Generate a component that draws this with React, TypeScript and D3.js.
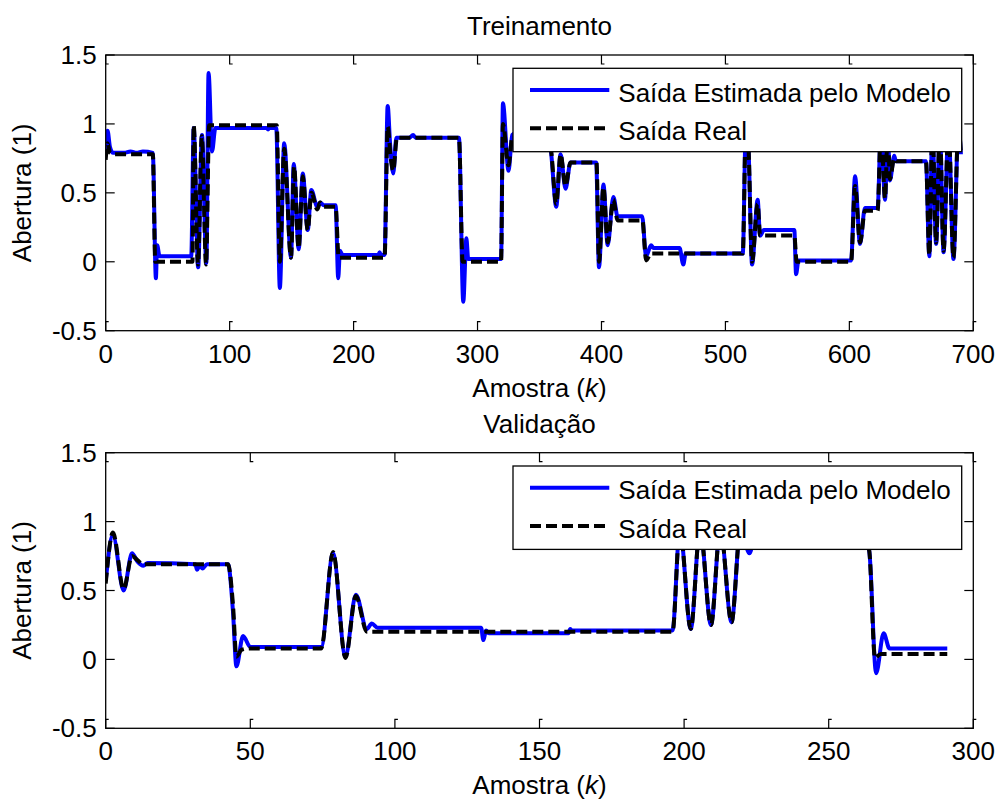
import React from 'react';
import * as d3 from 'd3';

type Pt = [number, number];

// Training set: measured valve opening (vertices at sample k)
const trainReal: Pt[] = [
  [0, 0.74], [1.5, 0.86], [3.5, 0.79], [6, 0.78], [38, 0.78],
  [40, 0.0], [70, 0.0],
  [71, 0.99], [74.5, -0.02], [77.5, 0.91], [81, -0.02], [83.5, 0.99], [138, 0.99],
  [140.5, 0.0], [144, 0.82], [149.5, 0.03], [152, 0.69], [155.7, 0.1], [159, 0.62], [163, 0.23], [166, 0.5], [170.7, 0.38], [173, 0.43], [176, 0.4], [185.5, 0.4],
  [188, 0.03], [225, 0.03],
  [227.5, 0.98], [230, 0.75], [232, 0.66], [235, 0.9], [285, 0.9],
  [288, 0.0], [319, 0.0],
  [320.5, 1.0], [325, 0.7], [328, 0.9], [335, 0.93], [345, 0.92], [352, 0.95], [358, 0.9],
  [359.5, 0.8], [363.5, 0.42], [367, 0.78], [371, 0.55], [375, 0.72], [396, 0.72],
  [398, 0.0], [401.6, 0.54], [405, 0.14], [409.6, 0.45], [413, 0.3], [433, 0.3],
  [436, 0.01], [440, 0.06], [514, 0.06],
  [516.5, 0.98], [518.5, 0.85], [521.5, 0.0], [526, 0.42], [528, 0.19], [555.6, 0.19],
  [557.5, 0.0], [601.4, 0.0],
  [604.6, 0.55], [608.6, 0.14], [612.6, 0.37], [622.8, 0.37],
  [625.5, 0.98], [628.8, 0.46], [631, 0.98], [632.7, 0.6], [636.2, 0.75], [637.5, 0.73], [661.8, 0.73],
  [664.5, 0.05], [667, 0.98], [670, 0.14], [673, 0.98], [676, 0.08], [680, 0.98], [684, 0.03], [688, 0.98], [690, 0.78],
];

// Training set: model output
const trainModel: Pt[] = [
  [0, 0.8], [1.5, 0.95], [3.5, 0.83], [6, 0.79], [15, 0.79], [20, 0.8], [25, 0.79], [30, 0.8], [38, 0.79],
  [40.5, -0.12], [41.5, 0.12], [43.5, 0.04], [69, 0.04],
  [71, 0.97], [74.6, -0.04], [77.7, 0.92], [81.2, -0.01], [83, 1.37], [85.8, 0.8], [88.5, 0.97], [130, 0.97], [131, 0.96], [132, 0.97], [137.6, 0.97],
  [140.5, -0.19], [144, 0.86], [149.5, 0.03], [151.7, 0.71], [155.7, 0.09], [159, 0.64], [163, 0.23], [165.9, 0.52], [170.7, 0.4], [173, 0.43], [176, 0.41], [185.5, 0.41],
  [187.6, -0.12], [189, 0.08], [191, 0.05], [220, 0.05], [221, 0.07], [222, 0.05], [225, 0.05],
  [227.5, 1.13], [229.5, 0.85], [232, 0.64], [234.5, 0.9], [245, 0.9], [248, 0.92], [250, 0.9], [285, 0.9],
  [288.5, -0.29], [291, 0.17], [292.5, 0.02], [319, 0.02],
  [320.5, 1.15], [325, 0.66], [328, 0.92], [335, 0.95], [345, 0.93], [352, 0.96], [358, 0.9],
  [359.5, 0.78], [363.5, 0.4], [367, 0.78], [371, 0.53], [375, 0.72], [395.7, 0.72],
  [398, -0.04], [401.6, 0.56], [405, 0.12], [409.6, 0.47], [413, 0.33], [432.8, 0.33],
  [436, 0.04], [440, 0.12], [442, 0.1], [463, 0.1], [466, -0.02], [468, 0.06], [514, 0.06],
  [516.5, 0.98], [518.5, 0.85], [521.5, -0.02], [526, 0.45], [528, 0.19], [531, 0.23], [555.6, 0.23],
  [557, -0.09], [559, 0.01], [601.4, 0.01],
  [604.6, 0.62], [608.6, 0.13], [612.6, 0.39], [622.8, 0.39],
  [625.5, 0.98], [628.8, 0.45], [631, 0.98], [632.7, 0.59], [636.2, 0.77], [637.5, 0.73], [661.8, 0.73],
  [664.5, 0.04], [667, 0.98], [670, 0.13], [673, 0.98], [676, 0.07], [680, 0.98], [684, 0.02], [688, 0.98], [690, 0.78],
];

// Validation set: measured valve opening
const validReal: Pt[] = [
  [0, 0.55], [2.5, 0.92], [6.2, 0.51], [9.1, 0.75], [11, 0.72], [13, 0.69], [42.3, 0.69], [44, 0.4], [45.2, 0.02], [47, 0.07], [50, 0.08], [74.5, 0.08],
  [78.6, 0.78], [82.9, 0.01], [86.5, 0.46], [90.3, 0.2], [196, 0.2],
  [198.5, 0.95], [202.3, 0.22], [205.5, 0.95], [209.3, 0.25], [212.5, 0.95], [216.4, 0.27], [219.5, 0.95], [222.6, 0.82], [225, 0.95], [245, 0.92], [262, 0.9],
  [264, 0.79], [266, 0.01], [268, 0.04], [291, 0.04],
];

// Validation set: model output
const validModel: Pt[] = [
  [0, 0.57], [2.5, 0.9], [6.2, 0.5], [9.1, 0.77], [11, 0.71], [13, 0.68], [14.5, 0.7], [31, 0.69], [31.6, 0.65], [32.5, 0.68], [33.5, 0.66], [35, 0.69], [42.3, 0.69],
  [44, 0.35], [45.2, -0.05], [47.5, 0.17], [50, 0.09], [74.5, 0.09],
  [78.6, 0.77], [82.9, 0.02], [86.5, 0.47], [90.3, 0.22], [92, 0.26], [94, 0.23], [129.8, 0.23], [130.6, 0.14], [131.5, 0.21], [132.5, 0.19], [160, 0.19], [160.6, 0.22], [161.2, 0.21], [196, 0.21],
  [198.5, 0.95], [202.3, 0.22], [205.5, 0.95], [209.3, 0.25], [212.5, 0.95], [216.4, 0.27], [219.5, 0.95], [222.6, 0.77], [225, 0.95], [245, 0.92], [262, 0.9],
  [264, 0.79], [266.4, -0.1], [269, 0.19], [271, 0.08], [291, 0.08],
];

const trainXTicks = [0, 100, 200, 300, 400, 500, 600, 700];
const validXTicks = [0, 50, 100, 150, 200, 250, 300];
const yTicks = [-0.5, 0, 0.5, 1, 1.5];
const yTickLabels = ['-0.5', '0', '0.5', '1', '1.5'];
const legendLabels = ['Saída Estimada pelo Modelo', 'Saída Real'];

const FONT = "'Liberation Sans', Arial, Helvetica, sans-serif";
const FS = 26;
const BLUE = '#0000ff';
const LW = 4;
const DASH = '11,5';
const AX_LEFT = 105.7;
const AX_RIGHT = 973.3;

interface PanelProps {
  id: string;
  title: string;
  top: number;
  bottom: number;
  xMax: number;
  xTicks: number[];
  real: Pt[];
  model: Pt[];
}

function Panel({ id, title, top, bottom, xMax, xTicks, real, model }: PanelProps) {
  const x = d3.scaleLinear().domain([0, xMax]).range([AX_LEFT, AX_RIGHT]);
  const y = d3.scaleLinear().domain([-0.5, 1.5]).range([bottom, top]);
  const line = d3
    .line<Pt>()
    .x((d) => x(d[0]))
    .y((d) => y(d[1]))
    .curve(d3.curveMonotoneX);
  const cx = (AX_LEFT + AX_RIGHT) / 2;
  const cy = (top + bottom) / 2;
  const legL = 513;
  const legR = 961.7;
  const legT = top + 13.3;
  const legH = 83.4;
  const tk = 9;

  return (
    <g>
      <defs>
        <clipPath id={`clip-${id}`}>
          <rect x={AX_LEFT} y={top} width={AX_RIGHT - AX_LEFT} height={bottom - top} />
        </clipPath>
      </defs>
      <text x={cx} y={top - 20} textAnchor="middle" fontSize={FS} fontFamily={FONT} fill="#000">
        {title}
      </text>

      <g clipPath={`url(#clip-${id})`}>
        <path d={line(model) ?? ''} fill="none" stroke={BLUE} strokeWidth={LW} strokeLinejoin="round" />
        <path d={line(real) ?? ''} fill="none" stroke="#000" strokeWidth={LW} strokeDasharray={DASH} strokeLinejoin="round" />
      </g>

      {/* axis ticks */}
      <g stroke="#000" strokeWidth={1.2} fill="none">
        {xTicks.map((t) => (
          <g key={`xt${t}`}>
            <path d={`M${x(t)},${bottom}v${-tk}h3`} />
            <path d={`M${x(t)},${top}v${tk}h3`} />
          </g>
        ))}
        {yTicks.map((t) => (
          <g key={`yt${t}`}>
            <path d={`M${AX_LEFT},${y(t)}h${tk}`} />
            <path d={`M${AX_RIGHT},${y(t)}h${-tk}`} />
          </g>
        ))}
      </g>

      <rect x={AX_LEFT} y={top} width={AX_RIGHT - AX_LEFT} height={bottom - top} fill="none" stroke="#000" strokeWidth={1.3} />

      {/* tick labels */}
      <g fontSize={FS} fontFamily={FONT} fill="#000">
        {xTicks.map((t) => (
          <text key={`xl${t}`} x={x(t)} y={bottom + 32} textAnchor="middle">
            {t}
          </text>
        ))}
        {yTicks.map((t, i) => (
          <text key={`yl${t}`} x={AX_LEFT - 9} y={y(t)} dy="0.35em" textAnchor="end">
            {yTickLabels[i]}
          </text>
        ))}
      </g>

      <text x={cx} y={bottom + 66} textAnchor="middle" fontSize={FS} fontFamily={FONT} fill="#000">
        Amostra (<tspan fontStyle="italic">k</tspan>)
      </text>
      <text transform={`translate(31,${cy}) rotate(-90)`} textAnchor="middle" fontSize={FS} fontFamily={FONT} fill="#000">
        Abertura (1)
      </text>

      {/* legend */}
      <g>
        <rect x={legL} y={legT} width={legR - legL} height={legH} fill="#fff" stroke="#000" strokeWidth={1.3} />
        <line x1={530} x2={609.3} y1={legT + 21.7} y2={legT + 21.7} stroke={BLUE} strokeWidth={LW} />
        <line x1={530} x2={609.3} y1={legT + 60} y2={legT + 60} stroke="#000" strokeWidth={LW} strokeDasharray={DASH} />
        <text x={618.3} y={legT + 21.7 + 11.5} fontSize={FS} fontFamily={FONT} fill="#000">
          {legendLabels[0]}
        </text>
        <text x={618.3} y={legT + 60 + 11.5} fontSize={FS} fontFamily={FONT} fill="#000">
          {legendLabels[1]}
        </text>
      </g>
    </g>
  );
}

export default function App() {
  return (
    <svg
      width={1000}
      height={802}
      viewBox="0 0 1000 802"
      style={{ position: 'absolute', left: 0, top: 0, background: '#fff' }}
    >
      <rect x={0} y={0} width={1000} height={802} fill="#fff" />
      <Panel id="train" title="Treinamento" top={55} bottom={330.7} xMax={700} xTicks={trainXTicks} real={trainReal} model={trainModel} />
      <Panel id="valid" title="Validação" top={452.7} bottom={728.3} xMax={300} xTicks={validXTicks} real={validReal} model={validModel} />
    </svg>
  );
}
